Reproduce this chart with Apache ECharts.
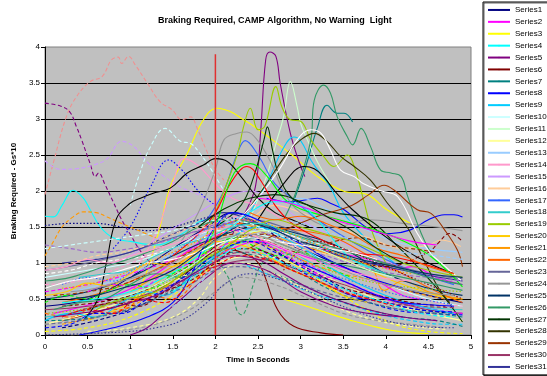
<!DOCTYPE html>
<html>
<head>
<meta charset="utf-8">
<script src="https://cdn.jsdelivr.net/npm/echarts@6/dist/echarts.min.js"></script>
<style>
html,body{margin:0;padding:0;background:#fff;}
#chart{width:547px;height:376px;}
</style>
</head>
<body>
<div id="chart"></div>
<script>
// Braking demand traces: [time (s), braking required (Gs*10)]
const s1  = [[0,0.4],[0.5,0.5],[1,0.8],[1.5,1.2],[1.9,1.5],[2.2,1.7],[2.5,1.55],[2.8,1.3],[3.2,1.1],[3.6,0.9],[4,0.7],[4.5,0.55],[4.9,0.45]];
const s2  = [[0.1,0.3],[0.6,0.45],[1.1,0.7],[1.6,1.1],[2.0,1.45],[2.3,1.6],[2.6,1.5],[3.0,1.3],[3.4,1.15],[3.8,1.05],[4.1,0.9],[4.3,0.95],[4.6,0.8],[4.9,0.7]];
const s3  = [[1.0,0.35],[1.2,0.9],[1.35,1.5],[1.47,2.06],[1.67,2.52],[1.86,2.99],[2.02,3.15],[2.18,3.1],[2.33,2.99],[2.45,2.9],[2.68,2.7],[2.9,2.5],[3.2,2.2],[3.5,2.0],[3.78,1.95],[4.0,1.75],[4.29,1.55]];
const s4  = [[0,1.65],[0.1,1.64],[0.2,1.8],[0.33,2.01],[0.45,1.9],[0.53,1.74],[0.65,1.5],[0.8,1.35],[1.0,1.3],[1.3,1.25],[1.6,1.4],[1.9,1.6],[2.1,1.55],[2.4,1.5],[2.6,1.4]];
const s5  = [[2.2,1.4],[2.35,1.7],[2.47,2.06],[2.53,2.8],[2.59,3.82],[2.64,3.93],[2.71,3.87],[2.76,3.5],[2.88,2.8],[2.98,2.41],[3.05,2.2]];
const s6  = [[0.2,0.2],[0.7,0.35],[1.2,0.55],[1.7,0.9],[2.1,1.2],[2.4,1.1],[2.53,0.95],[2.73,0.35],[2.92,0.12],[3.24,0.03],[3.5,0.0]];
const s7  = [[2.9,1.8],[3.05,2.3],[3.2,2.89],[3.31,3.19],[3.43,3.08],[3.51,3.08],[3.61,2.96]];
const s8  = [[2.6,1.9],[2.9,1.85],[3.2,1.9],[3.35,1.83],[3.51,1.74],[3.82,1.46],[4.06,1.41],[4.29,1.46],[4.5,1.6],[4.69,1.67],[4.8,1.67],[4.9,1.64]];
const s9  = [[2.3,1.5],[2.6,2.1],[2.8,2.6],[2.92,2.75],[3.0,2.7],[3.12,2.43],[3.2,2.29],[3.35,2.05],[3.5,1.7],[3.8,1.3],[4.1,1.0]];
const s10 = [[0,0.8],[0.5,0.9],[1,1.0],[1.5,1.2],[2,1.45],[2.5,1.4],[3,1.2],[3.5,0.9],[4,0.7],[4.5,0.5],[4.9,0.4]];
const s11 = [[2.4,1.6],[2.6,2.2],[2.72,2.7],[2.8,3.03],[2.88,3.52],[2.96,3.17],[3.0,2.94],[3.08,2.71],[3.2,2.4],[3.35,2.1]];
const s12 = [[0,0.15],[0.5,0.3],[1,0.5],[1.5,0.75],[2,1.0],[2.5,1.1],[3,0.95],[3.5,0.7],[4,0.45],[4.5,0.3],[4.9,0.2]];
const s13 = [[0.3,0.6],[0.8,0.75],[1.3,1.0],[1.8,1.35],[2.2,1.6],[2.6,1.8],[3.0,1.9],[3.3,1.75],[3.7,1.5],[4.1,1.3],[4.5,1.2],[4.9,1.15]];
const s14 = [[1.0,0.8],[1.3,1.4],[1.5,2.1],[1.63,2.45],[1.8,2.35],[2.0,2.1],[2.2,1.9],[2.5,1.8],[2.8,1.6],[3.2,1.3],[3.6,1.0],[4.0,0.8]];
const s15 = [[0.6,0.9],[1.0,1.1],[1.4,1.4],[1.8,1.7],[2.1,1.9],[2.4,2.0],[2.7,1.85],[3.0,1.6],[3.4,1.35],[3.8,1.1],[4.2,0.95]];
const s16 = [[1.5,1.0],[2.0,1.3],[2.4,1.6],[2.7,1.8],[3.0,1.7],[3.4,1.5],[3.8,1.35],[4.2,1.2],[4.5,1.25],[4.65,1.32],[4.88,1.23]];
const s17 = [[1.9,1.6],[2.1,2.0],[2.25,2.5],[2.35,2.7],[2.5,2.5],[2.7,2.1],[2.9,1.9],[3.2,1.6],[3.6,1.3],[4.0,1.05],[4.4,0.85],[4.8,0.7]];
const s18 = [[0,0.25],[0.5,0.35],[1,0.55],[1.5,0.8],[2,1.1],[2.4,1.3],[2.8,1.2],[3.2,0.95],[3.6,0.7],[4.0,0.5],[4.4,0.4],[4.9,0.35]];
const s19 = [[1.9,1.4],[2.1,2.0],[2.26,2.52],[2.33,2.89],[2.41,3.15],[2.5,2.85],[2.58,2.9],[2.71,3.45],[2.78,3.17],[2.88,2.99],[3.0,2.97],[3.12,2.71],[3.27,2.48],[3.39,2.34],[3.55,2.5],[3.63,2.34],[3.74,1.87],[3.85,1.4],[4.02,0.95]];
const s20 = [[0.5,0.2],[1,0.45],[1.4,0.8],[1.8,1.1],[2.2,1.3],[2.6,1.45],[3,1.3],[3.4,1.1],[3.8,0.9],[4.2,0.7],[4.6,0.55],[4.9,0.5]];
const s21 = [[1.0,0.6],[1.5,0.95],[2.0,1.3],[2.3,1.55],[2.6,1.4],[3.0,1.25],[3.4,1.1],[3.82,0.95],[3.98,0.62],[4.2,0.75],[4.5,0.6],[4.9,0.5]];
const s22 = [[0.2,0.45],[0.7,0.6],[1.2,0.85],[1.6,1.1],[2.0,1.35],[2.3,1.55],[2.6,1.5],[3.0,1.45],[3.4,1.35],[3.8,1.1],[4.2,0.85],[4.6,0.6],[4.9,0.45]];
const s23 = [[0,0.9],[0.5,1.0],[1,1.15],[1.5,1.35],[2,1.5],[2.4,1.6],[2.8,1.5],[3.2,1.3],[3.6,1.15],[4.0,1.0],[4.5,0.85],[4.9,0.78]];
const s24 = [[1.6,1.3],[1.8,1.7],[2.0,2.3],[2.1,2.71],[2.25,2.8],[2.37,2.82],[2.49,2.71],[2.65,2.4],[2.8,2.0],[3.0,1.7],[3.4,1.5],[3.8,1.6],[4.2,1.55],[4.6,1.5],[4.9,1.45]];
const s25 = [[0,0.5],[0.5,0.6],[1,0.8],[1.5,1.1],[2,1.35],[2.5,1.5],[3,1.4],[3.5,1.2],[4,0.85],[4.5,0.65],[4.9,0.55]];
const s26 = [[2.8,1.6],[2.95,2.0],[3.12,2.71],[3.16,3.26],[3.27,3.47],[3.35,3.36],[3.43,3.03],[3.55,2.75],[3.61,2.64],[3.71,2.87],[3.82,2.62],[3.94,2.29],[4.06,2.25],[4.18,2.2],[4.25,1.95],[4.37,1.55],[4.45,1.32],[4.55,1.1]];
const s27 = [[2.0,1.5],[2.3,1.8],[2.45,2.2],[2.57,2.71],[2.61,2.89],[2.67,2.57],[2.75,2.2],[2.9,1.9],[3.1,1.8],[3.4,1.7],[3.8,1.6],[4.14,1.23],[4.37,0.95],[4.65,0.58],[4.9,0.18]];
const s28 = [[2.3,1.6],[2.6,2.1],[2.84,2.52],[3.0,2.71],[3.16,2.8],[3.3,2.7],[3.47,2.48],[3.63,2.34],[3.82,2.15],[4.02,1.83],[4.25,1.5],[4.41,1.13],[4.61,0.67],[4.75,0.45]];
const s29 = [[2.4,1.2],[2.8,1.45],[3.2,1.65],[3.6,1.8],[3.8,1.95],[3.98,2.08],[4.1,2.01],[4.37,1.74],[4.53,1.69],[4.69,1.46],[4.84,1.18],[4.9,0.95]];
const s30 = [[0,0.35],[0.5,0.4],[1,0.5],[1.5,0.7],[2,0.95],[2.5,1.05],[3,0.9],[3.5,0.7],[4,0.5],[4.5,0.35],[4.9,0.3]];
const s31 = [[0.2,1.0],[0.6,1.05],[1,1.15],[1.4,1.35],[1.8,1.55],[2.1,1.7],[2.4,1.6],[2.8,1.4],[3.2,1.2],[3.6,1.05],[4,0.95],[4.4,0.85],[4.9,0.75]];
const s32 = [[0,1.95],[0.1,2.4],[0.25,3.03],[0.37,3.31],[0.53,3.52],[0.67,3.59],[0.78,3.82],[0.86,3.86],[0.9,3.77],[0.98,3.87],[1.06,3.75],[1.2,3.5],[1.35,3.24],[1.49,3.13],[1.61,2.99],[1.71,3.03],[1.78,2.89],[1.9,2.55],[2.0,2.3],[2.1,2.15]];
const s33 = [[0,3.22],[0.18,3.18],[0.29,3.1],[0.37,2.89],[0.43,2.71],[0.53,2.38],[0.59,2.2],[0.63,2.25],[0.7,2.1],[0.8,1.85],[0.9,1.6],[1.0,1.4],[1.1,1.2],[1.2,1.05],[1.3,0.95]];
const s34 = [[0,2.42],[0.18,2.3],[0.37,2.31],[0.57,2.36],[0.73,2.45],[0.9,2.69],[1.04,2.62],[1.2,2.4],[1.4,2.2],[1.6,2.05],[1.8,1.95],[2.0,1.8]];
const s35 = [[1.0,1.8],[1.1,2.2],[1.24,2.62],[1.41,2.87],[1.59,2.69],[1.71,2.66],[1.82,2.52],[1.95,2.3],[2.1,2.0]];
const s36 = [[0,1.52],[0.3,1.55],[0.6,1.55],[0.9,1.5],[1.2,1.45],[1.5,1.5],[1.8,1.6],[2.0,1.65],[2.3,1.6]];
const s37 = [[0,1.1],[0.1,1.3],[0.2,1.5],[0.33,1.64],[0.45,1.71],[0.6,1.7],[0.73,1.64],[0.9,1.55],[1.1,1.45],[1.3,1.35]];
const s38 = [[1.8,1.3],[2.0,1.1],[2.1,0.9],[2.18,0.72],[2.25,0.35],[2.31,0.28],[2.37,0.39],[2.45,0.72],[2.55,1.0],[2.7,1.1]];
const s39 = [[0.8,1.2],[1.0,1.5],[1.24,2.06],[1.45,2.43],[1.6,2.3],[1.8,2.0],[2.0,1.8]];
const s40 = [[0.2,0.4],[0.6,0.45],[1.0,0.55],[1.4,0.75],[1.8,1.05],[2.1,1.3],[2.5,1.4],[3.0,1.3],[3.5,1.1],[4.0,0.95],[4.5,1.15],[4.61,1.27],[4.75,1.41],[4.9,1.3]];
const s41 = [[2.5,1.2],[2.9,0.95],[3.3,0.7],[3.7,0.5],[4.1,0.35],[4.5,0.3],[4.9,0.28]];
const s42 = [[2.3,1.0],[2.7,0.8],[3.1,0.6],[3.5,0.45],[3.9,0.3],[4.3,0.2],[4.7,0.15],[4.9,0.15]];
const s43 = [[2.6,0.9],[3.0,0.7],[3.4,0.5],[3.8,0.35],[4.2,0.25],[4.6,0.2],[4.9,0.12]];
const s44 = [[0,0.6],[0.5,0.7],[1,0.85],[1.5,1.05],[1.9,1.3],[2.2,1.45],[2.6,1.3],[3,1.05],[3.4,0.8],[3.8,0.6],[4.2,0.45],[4.6,0.35],[4.9,0.3]];
const s45 = [[0,0.05],[0.5,0.1],[1,0.25],[1.5,0.55],[1.9,0.9],[2.2,1.2],[2.5,1.25],[2.9,1.0],[3.3,0.7],[3.7,0.4],[4.1,0.15],[4.5,0.05],[4.9,0.02]];
const s46 = [[2.2,1.5],[2.5,1.9],[2.75,2.3],[2.96,2.71],[3.12,2.85],[3.24,2.8],[3.35,2.57],[3.47,2.29],[3.63,2.2],[3.74,2.1],[3.95,2.0],[4.14,1.92],[4.37,1.41],[4.53,1.13],[4.7,0.95],[4.88,0.76]];
const s47 = [[0.45,0.2],[0.62,0.5],[0.72,1.0],[0.84,1.62],[1.0,1.83],[1.12,1.9],[1.27,1.97],[1.47,2.04],[1.67,2.25],[1.86,2.36],[2.0,2.45],[2.14,2.41],[2.3,2.2],[2.5,1.9],[2.7,1.7],[2.9,1.6],[3.1,1.5]];
const s48 = [[2.5,1.6],[2.8,2.1],[3.04,2.34],[3.16,2.31],[3.27,2.2],[3.4,2.0],[3.6,1.75],[3.9,1.45],[4.2,1.2],[4.5,1.0],[4.8,0.85]];
const s49 = [[1.5,1.1],[1.8,1.4],[2.0,1.7],[2.15,2.05],[2.29,2.29],[2.37,2.34],[2.53,2.15],[2.7,1.8],[2.9,1.55],[3.2,1.35],[3.6,1.15],[4.0,1.1],[4.4,1.0],[4.8,0.85]];
const s50 = [[1.8,1.0],[2.0,1.5],[2.22,2.25],[2.41,2.38],[2.61,2.2],[2.8,1.9],[3.0,1.75],[3.3,1.65],[3.6,1.55],[3.9,1.45],[4.18,1.32],[4.53,1.09],[4.9,0.67]];
const s51 = [[0,0.7],[0.4,0.75],[0.8,0.9],[1.2,1.1],[1.6,1.35],[2.0,1.55],[2.3,1.65],[2.6,1.5],[3.0,1.2],[3.4,0.95],[3.8,0.75],[4.2,0.6],[4.6,0.45],[4.9,0.4]];
const s52 = [[0,0.3],[0.4,0.35],[0.8,0.45],[1.2,0.6],[1.6,0.85],[2.0,1.15],[2.4,1.3],[2.8,1.15],[3.2,0.95],[3.6,0.8],[4.0,0.7],[4.4,0.65],[4.9,0.6]];
const s53 = [[0.2,0.1],[0.6,0.2],[1.0,0.35],[1.4,0.6],[1.8,1.0],[2.1,1.3],[2.4,1.35],[2.8,1.1],[3.2,0.85],[3.6,0.6],[4.0,0.45],[4.4,0.35],[4.8,0.3]];
const s54 = [[0,0.85],[0.3,0.9],[0.6,1.0],[0.9,1.05],[1.2,1.1],[1.6,1.25],[2.0,1.4],[2.3,1.5],[2.7,1.45],[3.1,1.3],[3.5,1.2],[3.9,1.0]];
const s55 = [[0.5,0.05],[1.0,0.1],[1.5,0.25],[1.8,0.5],[2.0,0.8],[2.3,1.0],[2.7,0.85],[3.1,0.6],[3.5,0.35],[3.9,0.2],[4.3,0.12],[4.7,0.08]];
const s56 = [[0.2,0.15],[0.6,0.25],[1.0,0.4],[1.4,0.65],[1.7,0.95],[2.0,1.2],[2.3,1.3],[2.7,1.2],[3.1,1.0],[3.5,0.85],[3.9,0.75],[4.3,0.6],[4.7,0.5]];
const s57 = [[0.2,0.45],[0.6,0.5],[1.0,0.6],[1.4,0.8],[1.8,1.1],[2.1,1.4],[2.4,1.7],[2.7,1.85],[3.0,1.8],[3.2,1.6],[3.4,1.3],[3.6,1.05],[3.9,0.9]];
const s58 = [[0,1.25],[0.3,1.2],[0.6,1.15],[1.0,1.2],[1.4,1.3],[1.8,1.45],[2.1,1.55],[2.5,1.45],[2.9,1.25],[3.3,1.1],[3.7,0.95],[4.1,0.85],[4.5,0.8],[4.9,0.75]];
const s59 = [[0.1,0.55],[0.5,0.6],[0.9,0.7],[1.3,0.9],[1.7,1.15],[2.0,1.35],[2.3,1.4],[2.6,1.3],[3.0,1.15],[3.4,1.3],[3.7,1.35],[4.0,1.25],[4.3,1.2],[4.6,1.15]];
const s60 = [[0,0.75],[0.3,0.8],[0.7,0.95],[1.1,1.1],[1.5,1.3],[1.8,1.5],[2.1,1.6],[2.5,1.55],[2.9,1.4],[3.3,1.25],[3.7,1.1],[4.1,0.95],[4.5,0.8],[4.9,0.7]];
const s61 = [[0.3,0.0],[0.8,0.05],[1.3,0.15],[1.7,0.35],[2.0,0.6],[2.3,0.8],[2.7,0.7],[3.1,0.5],[3.5,0.3],[3.9,0.2],[4.3,0.15],[4.7,0.1]];
const s62 = [[1.9,1.0],[2.2,1.2],[2.5,1.3],[2.9,1.15],[3.3,1.0],[3.6,0.9],[3.9,0.75],[4.2,0.55],[4.4,0.5]];
const s63 = [[2.8,0.9],[3.0,1.2],[3.2,1.3],[3.5,1.2],[3.9,1.0],[4.3,0.8],[4.7,0.6],[4.9,0.5]];
const s64 = [[1.0,0.0],[1.2,0.1],[1.4,0.3],[1.6,0.5],[1.9,0.8],[2.2,1.0],[2.6,0.9],[3.0,0.6],[3.4,0.4],[3.8,0.3],[4.2,0.25]];
const s65 = [[0,0.2],[0.4,0.22],[0.8,0.3],[1.2,0.45],[1.6,0.7],[1.9,1.0],[2.2,1.15],[2.6,1.05],[3.0,0.85],[3.4,0.6],[3.8,0.45],[4.2,0.35],[4.6,0.3],[4.9,0.25]];
const s66 = [[1.2,0.3],[1.5,0.4],[1.8,0.7],[2.1,1.1],[2.4,1.4],[2.7,1.6],[3.0,1.55],[3.4,1.4],[3.8,1.25],[4.2,1.15],[4.6,1.1],[4.9,1.05]];
const s67 = [[0.4,0.0],[0.8,0.1],[1.2,0.25],[1.5,0.45],[1.7,0.8],[1.85,1.2],[2.0,1.5],[2.2,1.7],[2.5,1.6],[2.8,1.4],[3.1,1.2],[3.4,1.0],[3.8,0.8],[4.2,0.65]];
const s68 = [[0,0.45],[0.25,0.55],[0.5,0.5],[0.75,0.62],[1.0,0.7],[1.25,0.65],[1.5,0.85],[1.75,1.0],[2.0,1.25],[2.25,1.35],[2.5,1.2],[2.75,1.1],[3.0,1.15],[3.3,0.95],[3.6,0.8]];
const s69 = [[0,0.3],[0.3,0.25],[0.6,0.4],[0.9,0.35],[1.2,0.55],[1.5,0.5],[1.8,0.8],[2.0,1.05],[2.2,1.2],[2.5,1.15],[2.8,0.95],[3.1,0.8],[3.4,0.65],[3.8,0.5],[4.2,0.4]];
const s70 = [[0.2,0.7],[0.5,0.8],[0.8,0.75],[1.1,0.95],[1.4,1.05],[1.7,1.3],[2.0,1.5],[2.3,1.45],[2.6,1.25],[2.9,1.1],[3.2,0.9],[3.6,0.75],[4.0,0.6],[4.4,0.5],[4.8,0.42]];
const s71 = [[0,0.55],[0.25,0.6],[0.5,0.72],[0.75,0.68],[1.0,0.85],[1.25,1.0],[1.5,0.95],[1.75,1.15],[2.0,1.3],[2.3,1.25],[2.6,1.1],[2.9,0.9],[3.2,0.75],[3.5,0.55],[3.8,0.45]];
const s72 = [[0.3,0.3],[0.6,0.4],[0.9,0.45],[1.2,0.5],[1.5,0.65],[1.8,0.9],[2.1,1.1],[2.4,1.15],[2.7,1.0],[3.0,0.85],[3.3,0.7],[3.6,0.55],[4.0,0.45],[4.4,0.4],[4.8,0.38]];
const s73 = [[0,0.2],[0.3,0.3],[0.6,0.25],[0.9,0.45],[1.2,0.6],[1.4,0.55],[1.7,0.8],[2.0,1.1],[2.2,1.35],[2.5,1.5],[2.8,1.35],[3.1,1.15],[3.4,0.9],[3.7,0.7],[4.0,0.55],[4.4,0.4],[4.8,0.3]];
const s74 = [[0.5,0.6],[0.8,0.7],[1.1,0.65],[1.4,0.85],[1.7,1.0],[2.0,1.2],[2.3,1.3],[2.6,1.25],[2.9,1.05],[3.2,0.85],[3.5,0.75],[3.8,0.6],[4.1,0.45]];
const s75 = [[0.1,0.35],[0.4,0.45],[0.7,0.5],[1.0,0.7],[1.3,0.85],[1.6,0.8],[1.9,1.05],[2.2,1.25],[2.5,1.35],[2.8,1.25],[3.1,1.1],[3.4,1.0],[3.8,0.9],[4.2,0.8],[4.6,0.7],[4.9,0.62]];
const s76 = [[0,0.65],[0.3,0.75],[0.6,0.8],[0.9,0.9],[1.2,1.0],[1.5,1.05],[1.8,1.15],[2.1,1.3],[2.4,1.35],[2.7,1.3],[3.0,1.25],[3.3,1.2],[3.6,1.15],[3.9,1.05]];
const s77 = [[0.5,0.35],[0.8,0.45],[1.1,0.4],[1.4,0.6],[1.7,0.75],[2.0,1.0],[2.3,1.2],[2.6,1.15],[2.9,0.95],[3.2,0.8],[3.5,0.65],[3.9,0.55],[4.3,0.45],[4.7,0.4]];
const s78 = [[0,0.1],[0.3,0.15],[0.6,0.3],[0.9,0.3],[1.2,0.5],[1.5,0.7],[1.8,0.95],[2.1,1.2],[2.4,1.3],[2.7,1.15],[3.0,0.95],[3.3,0.75],[3.6,0.55],[4.0,0.45],[4.4,0.35],[4.8,0.32]];
const s79 = [[0.8,0.5],[1.1,0.6],[1.4,0.75],[1.7,0.95],[2.0,1.2],[2.3,1.4],[2.6,1.45],[2.9,1.35],[3.2,1.2],[3.5,1.05],[3.8,0.9],[4.1,0.8]];
const s80 = [[0,0.9],[0.25,0.95],[0.5,1.05],[0.75,1.0],[1.0,1.1],[1.3,1.2],[1.6,1.3],[1.9,1.45],[2.2,1.5],[2.5,1.35],[2.8,1.2],[3.1,1.05],[3.5,0.9],[3.9,0.8],[4.3,0.75]];
const s81 = [[0,0.15],[0.4,0.2],[0.8,0.3],[1.1,0.4],[1.4,0.55],[1.7,0.7],[2.0,0.9],[2.3,0.95],[2.6,0.85],[3.0,0.7],[3.4,0.55],[3.8,0.45],[4.2,0.35],[4.6,0.3]];
const s82 = [[0.6,0.35],[0.9,0.5],[1.2,0.55],[1.5,0.75],[1.8,1.0],[2.1,1.2],[2.4,1.45],[2.7,1.6],[3.0,1.5],[3.3,1.4],[3.6,1.3],[3.9,1.15],[4.2,1.0],[4.5,0.9],[4.9,0.8]];
const s83 = [[0.2,0.25],[0.5,0.35],[0.8,0.3],[1.1,0.5],[1.4,0.45],[1.7,0.7],[2.0,0.95],[2.3,1.1],[2.6,1.05],[2.9,0.9],[3.2,0.75],[3.5,0.6],[3.8,0.5],[4.1,0.4]];
const s84 = [[1.5,0.6],[1.8,0.85],[2.0,1.05],[2.3,1.2],[2.6,1.1],[2.9,0.95],[3.2,0.8],[3.6,0.6],[4.0,0.45],[4.4,0.3],[4.8,0.25]];
const s85 = [[0.3,0.5],[0.6,0.55],[0.9,0.65],[1.2,0.75],[1.5,0.9],[1.8,1.15],[2.1,1.4],[2.4,1.55],[2.7,1.45],[3.0,1.3],[3.3,1.2],[3.7,1.05],[4.1,0.95],[4.5,0.85],[4.9,0.8]];
const s86 = [[0,0.95],[0.3,1.0],[0.6,1.1],[0.9,1.15],[1.2,1.25],[1.5,1.4],[1.8,1.5],[2.1,1.45],[2.4,1.4],[2.7,1.3],[3.0,1.2],[3.4,1.1]];
const s87 = [[0,0.0],[0.5,0.02],[1.0,0.05],[1.3,0.1],[1.6,0.2],[1.9,0.45],[2.1,0.7],[2.4,0.85],[2.8,0.75],[3.2,0.55],[3.6,0.35],[4.0,0.2],[4.4,0.12],[4.8,0.1]];
const s88 = [[0.4,0.8],[0.7,0.85],[1.0,0.9],[1.3,1.1],[1.6,1.25],[1.9,1.35],[2.2,1.5],[2.5,1.55],[2.8,1.45],[3.1,1.3],[3.4,1.15],[3.7,1.0],[4.0,0.85]];
const s89 = [[0.1,0.25],[0.4,0.3],[0.7,0.35],[1.0,0.45],[1.3,0.55],[1.6,0.75],[1.9,0.95],[2.2,1.1],[2.5,1.05],[2.8,0.85],[3.1,0.65],[3.4,0.5],[3.8,0.35],[4.2,0.25],[4.6,0.2]];
const s90 = [[0,1.2],[0.3,1.25],[0.6,1.3],[0.9,1.35],[1.2,1.4],[1.5,1.45],[1.8,1.55],[2.1,1.6],[2.4,1.55],[2.7,1.4],[3.0,1.3]];
const s91 = [[0.3,0.6],[0.6,0.65],[0.9,0.75],[1.2,0.85],[1.5,1.0],[1.8,1.2],[2.1,1.35],[2.4,1.4],[2.7,1.3],[3.0,1.15],[3.3,1.0],[3.6,0.85],[4.0,0.7],[4.4,0.6],[4.8,0.55]];
const s92 = [[0.2,0.65],[0.5,0.7],[0.8,0.8],[1.1,0.95],[1.4,1.1],[1.7,1.25],[2.0,1.45],[2.3,1.6],[2.6,1.55],[2.9,1.4],[3.2,1.25],[3.5,1.1],[3.9,0.95],[4.3,0.85]];
const s93 = [[2.8,0.5],[3.2,0.35],[3.6,0.2],[4.0,0.08],[4.3,0.03],[4.5,0.02]];
const s94 = [[3.0,1.0],[3.3,0.85],[3.6,0.7],[3.9,0.55],[4.2,0.45],[4.5,0.42],[4.8,0.4]];
const s95 = [[2.5,1.9],[2.8,1.85],[3.1,1.75],[3.4,1.6],[3.7,1.5],[4.0,1.4],[4.3,1.3],[4.6,1.25]];
const s96 = [[2.4,1.7],[2.7,1.6],[3.0,1.65],[3.3,1.55],[3.6,1.4],[3.9,1.2],[4.2,1.1],[4.5,0.95],[4.8,0.85]];
const s97 = [[1.8,1.5],[2.1,1.75],[2.4,1.9],[2.7,1.95],[3.0,1.85],[3.3,1.65],[3.6,1.45],[3.9,1.2],[4.2,1.0]];

// Warning onset marker at t = 2 s
const warningLine = [[2,0],[2,3.9]];

const traces = [s1,s2,s3,s4,s5,s6,s7,s8,s9,s10,s11,s12,s13,s14,s15,s16,s17,s18,s19,s20,s21,s22,s23,s24,s25,s26,s27,s28,s29,s30,s31,
  s32,s33,s34,s35,s36,s37,s38,s39,s40,s41,s42,s43,s44,s45,s46,s47,s48,s49,s50,s51,s52,s53,s54,s55,s56,s57,s58,s59,s60,s61,s62,s63,s64,s65,s66,s67,
  s68,s69,s70,s71,s72,s73,s74,s75,s76,s77,s78,s79,s80,s81,s82,s83,s84,s85,s86,s87,s88,s89,s90,s91,s92,s93,s94,s95,s96,s97];

const xTicks = [0,0.5,1,1.5,2,2.5,3,3.5,4,4.5,5];
const yTicks = [0,0.5,1,1.5,2,2.5,3,3.5,4];

// Line colours (spreadsheet default palette) and dash kinds: 0 solid, 1 dashed, 2 dotted
const palette = ['#000080','#FF00FF','#FFFF00','#00FFFF','#800080','#800000','#008080','#0000FF','#00CCFF','#CCFFFF',
  '#CCFFCC','#FFFF99','#99CCFF','#FF99CC','#CC99FF','#FFCC99','#3366FF','#33CCCC','#99CC00','#FFCC00',
  '#FF9900','#FF6600','#666699','#969696','#003366','#339966','#003300','#333300','#993300','#993366','#333399',
  '#F09090','#800080','#CC99FF','#CCFFFF','#000080','#FF9900','#339966','#0000FF','#800000','#0000FF',
  '#00CCFF','#008080','#FF00FF','#FFFF00','#FFFFFF','#000000','#000000','#FF0000','#00FF00','#FF99CC',
  '#99CC00','#000080','#FFFFFF','#FFFF99','#FF9900','#00FFFF','#9966CC','#993300','#339966','#969696',
  '#FF00FF','#800000','#800080','#008080','#99CCFF','#0000FF',
  '#00FF00','#FF6600','#3366FF','#FFCC00','#993366','#00CCFF','#FF00FF','#339966','#FFFFFF','#800000',
  '#0000FF','#CCFFCC','#FF99CC','#666699','#99CC00','#FF0000','#00FFFF','#003366','#FFCC99','#333399',
  '#33CCCC','#800080','#CCFFFF','#969696','#FF9900','#FFFF00','#0000FF','#FF00FF','#FF6600','#003300'];
const dashKind = [0,0,0,0,0,0,0,0,0,0,0,0,0,0,0,0,0,0,0,0,0,0,0,0,0,0,0,0,0,0,0,
  1,1,1,1,2,1,1,2,1,1,
  1,1,1,1,0,0,0,0,0,1,
  2,1,1,1,1,0,1,1,0,1,
  0,2,0,1,1,0,
  1,1,2,0,1,0,1,0,0,1,
  1,0,0,1,0,1,1,0,1,2,
  0,0,1,0,2,0,0,0,0,0];

const dashTypes = ['solid',[4,2.5],[1.5,2]];
const legendNames = [];
for (let i = 1; i <= 31; i++) legendNames.push('Series' + i);

const series = traces.map((d, i) => ({
  name: 'Series' + (i + 1),
  type: 'line',
  data: d,
  smooth: 0.4,
  symbol: 'none',
  clip: true,
  color: palette[i],
  lineStyle: { width: 1.1, color: palette[i], type: dashTypes[dashKind[i]] },
  emphasis: { disabled: true },
  silent: true,
  z: 2
}));
series.push({
  name: 'warning',
  type: 'line',
  data: warningLine,
  symbol: 'none',
  color: '#E03030',
  lineStyle: { width: 1.5, color: '#E03030' },
  silent: true,
  z: 3
});

const FONT = 'Liberation Sans, Arial, sans-serif';
const chart = echarts.init(document.getElementById('chart'), null, { renderer: 'canvas' });
chart.setOption({
  animation: false,
  backgroundColor: '#ffffff',
  title: {
    text: 'Braking Required, CAMP Algorithm, No Warning  Light',
    left: 153, top: 11,
    textStyle: { fontFamily: FONT, fontSize: 9, fontWeight: 'bold', color: '#000' }
  },
  grid: {
    left: 45, top: 47, width: 426, height: 288,
    show: true, backgroundColor: '#C0C0C0', borderColor: '#808080', borderWidth: 1
  },
  legend: {
    data: legendNames,
    orient: 'vertical',
    left: 483, top: 2,
    padding: [2, 3, 2, 4],
    itemWidth: 22, itemHeight: 2, itemGap: 0, itemTextGap: 2,
    backgroundColor: '#ffffff', borderColor: '#000', borderWidth: 1,
    shadowColor: 'rgba(0,0,0,0.6)', shadowOffsetX: 1, shadowOffsetY: 1, shadowBlur: 0,
    lineStyle: { type: 'solid', width: 2 },
    selectedMode: false,
    textStyle: { fontFamily: FONT, fontSize: 8, color: '#000', lineHeight: 11.9, height: 11.9 }
  },
  xAxis: {
    type: 'value', min: 0, max: 5, interval: 0.5,
    name: 'Time in Seconds', nameLocation: 'middle', nameGap: 21,
    nameTextStyle: { fontFamily: FONT, fontSize: 8, fontWeight: 'bold', color: '#000' },
    axisLine: { show: true, onZero: false, lineStyle: { color: '#000', width: 1 } },
    axisTick: { show: true, inside: false, length: 4, lineStyle: { color: '#000' } },
    axisLabel: { fontFamily: FONT, fontSize: 8, color: '#000', margin: 8,
      customValues: xTicks, formatter: v => String(v) },
    splitLine: { show: false }
  },
  yAxis: {
    type: 'value', min: 0, max: 4, interval: 0.5,
    name: 'Braking Required - Gs*10', nameLocation: 'middle', nameGap: 20, nameRotate: 90,
    nameTextStyle: { fontFamily: FONT, fontSize: 8, fontWeight: 'bold', color: '#000' },
    axisLine: { show: true, lineStyle: { color: '#000', width: 1 } },
    axisTick: { show: true, inside: false, length: 4, lineStyle: { color: '#000' } },
    axisLabel: { fontFamily: FONT, fontSize: 8, color: '#000', margin: 5,
      customValues: yTicks, formatter: v => String(v) },
    splitLine: { show: true, showMaxLine: false, lineStyle: { color: '#000', width: 1 } }
  },
  series: series
});
</script>
</body>
</html>
